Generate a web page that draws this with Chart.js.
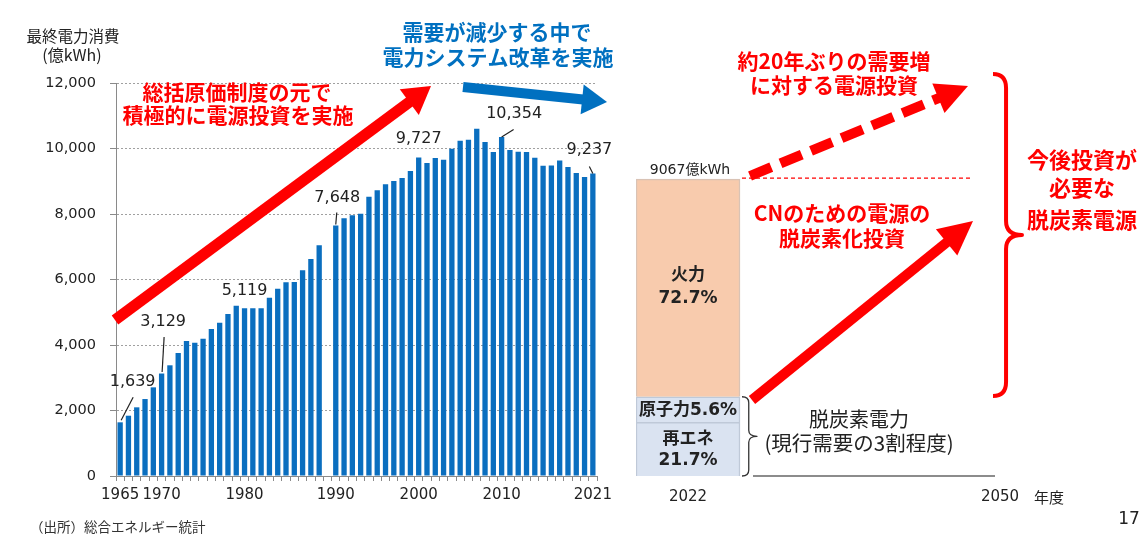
<!DOCTYPE html>
<html><head><meta charset="utf-8">
<script src="https://cdn.jsdelivr.net/npm/chart.js@4"></script>
<style>
html,body{margin:0;padding:0;background:#fff;width:1146px;height:535px;overflow:hidden}
#wrap{position:relative;width:1146px;height:535px;background:#fff}
canvas{position:absolute;top:0}
#c1{left:0}
#c2{left:620px}
</style></head><body>
<div id="wrap"><canvas id="c1" width="1146" height="535"></canvas><canvas id="c2" width="526" height="535"></canvas></div>
<script>
// ---------- data ----------
const yearLabels = ['1965','1966','1967','1968','1969','1970','1971','1972','1973','1974','1975','1976','1977','1978','1979','1980','1981','1982','1983','1984','1985','1986','1987','1988','1989','','1990','1991','1992','1993','1994','1995','1996','1997','1998','1999','2000','2001','2002','2003','2004','2005','2006','2007','2008','2009','2010','2011','2012','2013','2014','2015','2016','2017','2018','2019','2020','2021'];
const consumption = [1639,1841,2097,2350,2707,3129,3380,3755,4121,4070,4192,4488,4680,4946,5199,5119,5120,5125,5444,5719,5913,5923,6280,6625,7043,null,7648,7868,7959,8009,8528,8722,8905,9006,9098,9312,9727,9556,9709,9657,9993,10237,10268,10603,10197,9892,10354,9953,9901,9892,9718,9474,9484,9637,9434,9251,9128,9237];
const shownYears = ['1965','1970','1980','1990','2000','2010','2021'];
const labelYears = ['1965','1970','1980','1990','2000','2010','2021'];
const yTicksMax = 12000;
const yTicksStep = 2000;

const rightLabels = ['2022','','','2050'];
const segmentNames = ['再エネ','原子力','火力'];
const segmentShares = ['21.7%','5.6%','72.7%'];
const segmentValues = [1640, 780, 6647];

// ---------- helpers ----------
const CJK = '"Noto Sans CJK JP", sans-serif';
const NUM = '"DejaVu Sans", "Noto Sans CJK JP", sans-serif';
const RED = '#FF0000';
const BLUE = '#0070C0';

function txt(ctx, s, x, y, font, color, align){
  ctx.save();
  ctx.font = font; ctx.fillStyle = color;
  ctx.textAlign = align || 'center'; ctx.textBaseline = 'middle';
  ctx.fillText(s, x, y);
  ctx.restore();
}
function seg(ctx, x1, y1, x2, y2, color, w, dash){
  ctx.save();
  ctx.strokeStyle = color; ctx.lineWidth = w; ctx.setLineDash(dash || []);
  ctx.beginPath(); ctx.moveTo(x1, y1); ctx.lineTo(x2, y2); ctx.stroke();
  ctx.restore();
}
function arrow(ctx, x1, y1, x2, y2, w, hl, hw, color, dash){
  const dx = x2 - x1, dy = y2 - y1, L = Math.hypot(dx, dy), ux = dx / L, uy = dy / L;
  const bx = x2 - ux * hl, by = y2 - uy * hl;
  ctx.save();
  ctx.strokeStyle = color; ctx.fillStyle = color; ctx.lineWidth = w; ctx.lineCap = 'butt';
  ctx.setLineDash(dash || []);
  ctx.beginPath(); ctx.moveTo(x1, y1); ctx.lineTo(bx + ux, by + uy); ctx.stroke();
  ctx.setLineDash([]);
  ctx.beginPath(); ctx.moveTo(x2, y2);
  ctx.lineTo(bx - uy * hw, by + ux * hw); ctx.lineTo(bx + uy * hw, by - ux * hw);
  ctx.closePath(); ctx.fill();
  ctx.restore();
}
function brace(ctx, x0, yTop, yBot, depth, r, color, lw){
  const xm = x0 + depth * 0.45, ym = (yTop + yBot) / 2;
  ctx.save();
  ctx.strokeStyle = color; ctx.lineWidth = lw; ctx.lineJoin = 'round';
  ctx.beginPath();
  ctx.moveTo(x0, yTop);
  ctx.quadraticCurveTo(xm, yTop, xm, yTop + r);
  ctx.lineTo(xm, ym - r);
  ctx.quadraticCurveTo(xm, ym, x0 + depth, ym);
  ctx.quadraticCurveTo(xm, ym, xm, ym + r);
  ctx.lineTo(xm, yBot - r);
  ctx.quadraticCurveTo(xm, yBot, x0, yBot);
  ctx.stroke();
  ctx.restore();
}

// label placement styles (offsets from bar top)
const labelStyle = {
  '1965': {dx: 12.5, dy: -40, lead: [1, -2, 13, -25]},
  '1970': {dx: 1.5, dy: -51.5, lead: [0.5, -1.5, 2.5, -36.5]},
  '1980': {dx: 0, dy: -17.5},
  '1990': {dx: 1.5, dy: -27.5, lead: [0, -1, 1, -13]},
  '2000': {dx: 0, dy: -18.5},
  '2010': {dx: 12.5, dy: -23, lead: [0, 0, 12, -7.5]},
  '2021': {dx: -3.5, dy: -23.5, lead: [0, 0, -3.5, -7]}
};

const leftDecor = {
  id: 'leftDecor',
  afterDatasetsDraw(chart){
    const ctx = chart.ctx;
    const meta = chart.getDatasetMeta(0);
    labelYears.forEach(yr => {
      const i = yearLabels.indexOf(yr);
      const el = meta.data[i];
      const s = labelStyle[yr];
      if (s.lead) seg(ctx, el.x + s.lead[0], el.y + s.lead[1], el.x + s.lead[2], el.y + s.lead[3], '#222', 1.2);
      txt(ctx, consumption[i].toLocaleString('en-US'), el.x + s.dx, el.y + s.dy, '16px ' + NUM, '#222');
    });
  },
  afterDraw(chart){
    const ctx = chart.ctx;
    // axis title
    txt(ctx, '最終電力消費', 73, 36, '15.5px ' + CJK, '#222');
    txt(ctx, '(億kWh)', 72, 55, '16px ' + CJK, '#222');
    // arrows
    arrow(ctx, 115, 320, 431, 86, 11, 27, 16, RED);
    arrow(ctx, 463, 87, 607, 102, 10, 25, 15, BLUE);
    // red text
    txt(ctx, '総括原価制度の元で', 237, 92, 'bold 21px ' + CJK, RED);
    txt(ctx, '積極的に電源投資を実施', 238, 115, 'bold 21px ' + CJK, RED);
    // blue text
    txt(ctx, '需要が減少する中で', 497, 32, 'bold 21px ' + CJK, BLUE);
    txt(ctx, '電力システム改革を実施', 498, 57, 'bold 21px ' + CJK, BLUE);
    // source
    txt(ctx, '（出所）総合エネルギー統計', 30, 527, '13.5px ' + CJK, '#333', 'left');
  }
};

Chart.defaults.font.family = NUM;
Chart.defaults.color = '#222';

new Chart(document.getElementById('c1'), {
  type: 'bar',
  data: {
    labels: yearLabels,
    datasets: [{
      data: consumption,
      backgroundColor: '#0A6EBF',
      barPercentage: 0.64,
      categoryPercentage: 1.0
    }]
  },
  options: {
    responsive: false,
    animation: false,
    layout: {padding: {top: 83, right: 549, left: 0, bottom: 0}},
    plugins: {legend: {display: false}, tooltip: {enabled: false}},
    scales: {
      x: {
        afterFit(s){ s.height = 59; },
        grid: {display: true, drawOnChartArea: false, drawTicks: true, tickLength: 5, offset: true, color: '#8a8a8a', tickColor: '#8a8a8a'},
        border: {display: true, color: '#8a8a8a', width: 1},
        ticks: {
          autoSkip: false, maxRotation: 0, minRotation: 0, padding: 5,
          font: {size: 15}, color: '#222',
          callback(v, i){ return shownYears.includes(yearLabels[i]) ? yearLabels[i] : ''; }
        }
      },
      y: {
        min: 0, max: yTicksMax,
        afterFit(s){ s.width = 116; },
        grid: {color: '#a0a0a0', lineWidth: 1, drawTicks: true, tickLength: 6, tickColor: '#8a8a8a', tickBorderDash: []},
        border: {display: true, color: '#8a8a8a', width: 1, dash: [2, 2]},
        ticks: {stepSize: yTicksStep, padding: 14, font: {size: 14.5}, color: '#222'}
      }
    }
  },
  plugins: [leftDecor]
});

// ---------- right panel ----------
const OFF = 620;
const rightDecor = {
  id: 'rightDecor',
  afterDraw(chart){
    const ctx = chart.ctx;
    const ys = chart.scales.y, xs = chart.scales.x;
    const total = segmentValues.reduce((a, b) => a + b, 0);
    const metas = segmentValues.map((v, i) => chart.getDatasetMeta(i).data[0]);
    ctx.save();
    ctx.translate(-OFF, 0);
    const barEl = metas[2];
    const cx = barEl.x + OFF;
    const right = cx + barEl.width / 2;
    const topY = ys.getPixelForValue(total);
    const baseY = ys.getPixelForValue(0);
    // segment labels
    const bold = 'bold 17px ' + NUM;
    const mid = el => (el.y + el.base) / 2;
    txt(ctx, segmentNames[2], cx, mid(metas[2]) - 12, bold, '#222');
    txt(ctx, segmentShares[2], cx, mid(metas[2]) + 11, bold, '#222');
    txt(ctx, segmentNames[1] + segmentShares[1], cx, mid(metas[1]) + 1.5, bold, '#222');
    txt(ctx, segmentNames[0], cx, mid(metas[0]) - 10, bold, '#222');
    txt(ctx, segmentShares[0], cx, mid(metas[0]) + 11, bold, '#222');
    // total label
    txt(ctx, total + '億kWh', cx + 2, topY - 9, '14px ' + NUM, '#222');
    // dotted current-demand line
    seg(ctx, right + 2, topY - 1, 973, topY - 1, RED, 1.2, [4, 3]);
    // arrows
    arrow(ctx, 750, 176, 968, 86, 10, 32, 16, RED, [23, 10]);
    arrow(ctx, 752, 400, 973, 221, 10, 34, 17, RED);
    // texts
    txt(ctx, '約20年ぶりの需要増', 834, 61, 'bold 21px ' + CJK, RED);
    txt(ctx, 'に対する電源投資', 834, 85, 'bold 21px ' + CJK, RED);
    txt(ctx, 'CNのための電源の', 842, 213, 'bold 21px ' + CJK, RED);
    txt(ctx, '脱炭素化投資', 842, 238, 'bold 21px ' + CJK, RED);
    brace(ctx, 993, 74, 396, 29, 14, RED, 4);
    txt(ctx, '今後投資が', 1082, 160, 'bold 22px ' + CJK, RED);
    txt(ctx, '必要な', 1082, 188, 'bold 22px ' + CJK, RED);
    txt(ctx, '脱炭素電源', 1082, 220, 'bold 22px ' + CJK, RED);
    // decarbonised bracket
    const decTop = metas[1].y;
    brace(ctx, right + 2, decTop, baseY, 15, 6, '#333', 1.3);
    txt(ctx, '脱炭素電力', 859, 419, '20px ' + CJK, '#222');
    txt(ctx, '(現行需要の3割程度)', 859, 443, '20.5px ' + CJK, '#222');
    // axis line to 2050
    seg(ctx, right + 13, baseY, xs.getPixelForValue(3) + OFF - 5, baseY, '#666', 1.5);
    txt(ctx, '年度', xs.getPixelForValue(3) + OFF + 49, 497, '15px ' + CJK, '#222');
    txt(ctx, '17', 1129, 520, '17px ' + NUM, '#222');
    ctx.restore();
  }
};

new Chart(document.getElementById('c2'), {
  type: 'bar',
  data: {
    labels: rightLabels,
    datasets: segmentNames.map((n, i) => ({
      label: n,
      data: [segmentValues[i], null, null, null],
      backgroundColor: i === 2 ? '#F8CBAD' : '#DAE3F1',
      borderColor: i === 2 ? '#D9C3B5' : '#BFC9D8',
      borderWidth: 1.5,
      barPercentage: 1.0,
      categoryPercentage: 1.0
    }))
  },
  options: {
    responsive: false,
    animation: false,
    layout: {padding: {top: 83, right: 94, left: 16, bottom: 0}},
    plugins: {legend: {display: false}, tooltip: {enabled: false}},
    scales: {
      x: {
        stacked: true,
        afterFit(s){ s.height = 59; },
        grid: {display: false, drawTicks: false},
        border: {display: false},
        ticks: {autoSkip: false, maxRotation: 0, padding: 12, font: {size: 15}, color: '#222'}
      },
      y: {stacked: true, display: false, min: 0, max: yTicksMax}
    }
  },
  plugins: [rightDecor]
});
</script>
</body></html>
